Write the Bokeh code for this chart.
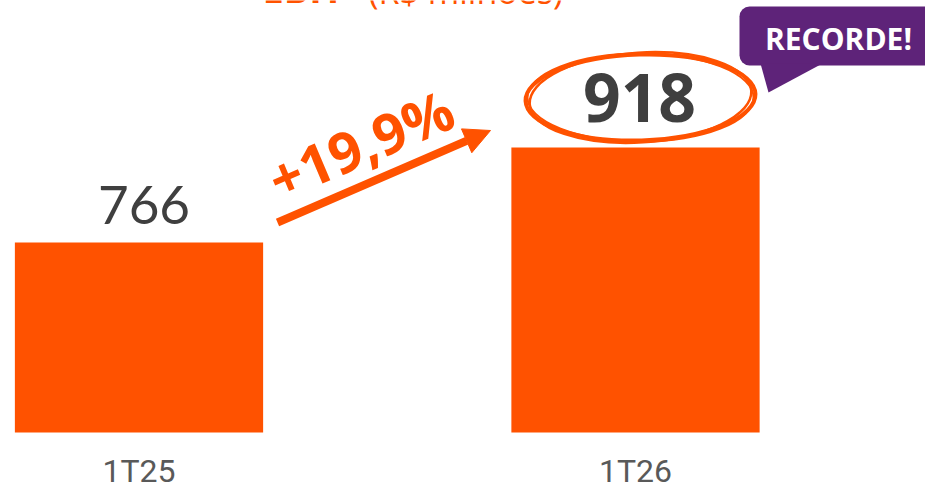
from bokeh.plotting import figure
from bokeh.models import Range1d, Arrow, NormalHead
from bokeh.core.properties import value
from bokeh.embed import file_html
from bokeh.resources import INLINE

# ---- data ----
CATEGORIES = ["1T25", "1T26"]
EBIT = [766, 918]
GROWTH_LABEL = "+19,9%"
TITLE_MAIN = "EBIT"
TITLE_UNIT = "(R$ milhões)"
BADGE = "RECORDE!"
BASE = 462  # value at the bars' baseline (axis does not start at zero)

ORANGE = "#FF5200"
PURPLE = "#5E2379"
DARK = "#3F3F3F"
LABEL_GRAY = "#595959"

W, H = 925, 490
KX = 496.5          # px per category unit
KY = 0.625          # px per value unit
XS = 0 - 138.5 / KX
XE = XS + W / KX
YS = BASE - (H - 432) / KY
YE = BASE + 432 / KY

def X(px):  # pixel -> data x
    return XS + px / KX

def Y(py):  # pixel -> data y
    return YE - py / KY

idx = list(range(len(CATEGORIES)))

p = figure(width=W, height=H, x_range=Range1d(XS, XE), y_range=Range1d(YS, YE),
           output_backend="svg", toolbar_location=None, min_border=0,
           x_axis_location=None, y_axis_location=None,
           outline_line_color=None, background_fill_color="white",
           border_fill_color="white")
p.grid.visible = False

# bars
p.vbar(x=idx, top=EBIT, bottom=BASE, width=0.5, color=ORANGE, line_color=None)

# category labels
p.text(x=idx, y=[BASE - 38.5 / KY] * len(idx), text=CATEGORIES, text_align="center",
       text_baseline="middle", text_font=value("Roboto"),
       text_font_size="32px", text_color=LABEL_GRAY)

# value labels
p.text(x=[idx[0] + 5 / KX], y=[EBIT[0] + 38 / KY], text=[str(EBIT[0])], text_align="center",
       text_baseline="middle", text_font=value("Lato"),
       text_font_size="53px", text_color=DARK)
p.text(x=[idx[1] + 4 / KX], y=[EBIT[1] + 50 / KY], text=[str(EBIT[1])], text_align="center",
       text_baseline="middle", text_font=value("Open Sans"),
       text_font_style="bold", text_font_size="66px", text_color=DARK)

# hand-drawn ellipse around the record value
ex, ey = X(640), Y(97)
for w, h, a, lw in [(230, 86, 0.03, 4), (222, 90, 0.06, 2.5), (226, 88, 0.0, 2)]:
    p.ellipse(x=[ex], y=[ey], width=w, height=h, width_units="screen",
              height_units="screen", angle=a, fill_alpha=0,
              line_color=ORANGE, line_width=lw)

# growth arrow + label
p.add_layout(Arrow(end=NormalHead(size=26, fill_color=ORANGE, line_color=ORANGE),
                   x_start=X(277), y_start=Y(222), x_end=X(490), y_end=Y(130),
                   line_color=ORANGE, line_width=8))
p.text(x=[X(360)], y=[Y(143)], text=[GROWTH_LABEL], angle=0.40, text_align="center",
       text_baseline="middle", text_font=value("Open Sans"), text_font_style="bold",
       text_font_size="56px", text_color=ORANGE)

# record badge (speech bubble)
p.quad(left=[X(739)], right=[X(960)], top=[Y(6)], bottom=[Y(65)],
       fill_color=PURPLE, line_color=None, border_radius=10)
p.patch(x=[X(760), X(822), X(768)], y=[Y(63), Y(63), Y(92)],
        fill_color=PURPLE, line_color=None)
p.text(x=[X(838)], y=[Y(38)], text=[BADGE], text_align="center",
       text_baseline="middle", text_font=value("Open Sans"), text_font_style="bold",
       text_font_size="30px", text_color="white")

# title (cut off at the top in the reference)
p.text(x=[X(262)], y=[Y(13)], text=[TITLE_MAIN], text_align="left",
       text_baseline="bottom", text_font=value("Open Sans"), text_font_style="bold",
       text_font_size="38px", text_color=ORANGE)
p.text(x=[X(368)], y=[Y(13)], text=[TITLE_UNIT], text_align="left",
       text_baseline="bottom", text_font=value("Open Sans"),
       text_font_size="34px", text_color=ORANGE)

open("out.html", "w").write(file_html(p, INLINE))
